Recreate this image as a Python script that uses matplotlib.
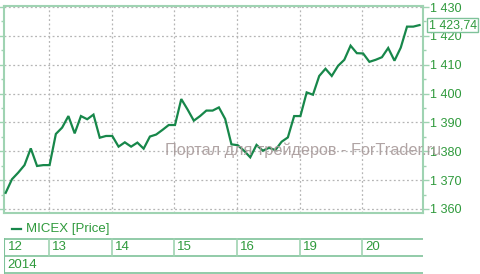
import matplotlib
matplotlib.use("Agg")
import matplotlib.pyplot as plt
from matplotlib.lines import Line2D
from matplotlib.ticker import MultipleLocator, FuncFormatter

plt.rcParams['font.family'] = ['Liberation Sans', 'DejaVu Sans']

# ---- data (hourly MICEX prices) ----
prices = [1365.6, 1370.3, 1372.6, 1375.2, 1381.0, 1374.9, 1375.2,
          1375.2, 1386.0, 1388.2, 1392.2, 1386.2, 1392.2, 1391.1, 1392.7, 1384.7, 1385.3,
          1385.3, 1381.6, 1383.1, 1381.6, 1383.0, 1380.9, 1385.1, 1385.8, 1387.4, 1389.1,
          1389.1, 1398.1, 1394.5, 1390.6, 1392.2, 1394.1, 1394.1, 1395.2, 1391.2, 1382.4,
          1382.1, 1380.2, 1377.9, 1382.2, 1380.2, 1381.2, 1380.4, 1383.3, 1384.8, 1392.2,
          1392.2, 1400.4, 1399.6, 1406.1, 1408.6, 1406.1, 1409.6, 1411.7, 1416.6, 1414.0,
          1413.9, 1411.0, 1411.7, 1412.6, 1415.8, 1411.4, 1415.9, 1423.2, 1423.2, 1423.74]
day_labels = ['12', '13', '14', '15', '16', '19', '20']
day_start_idx = [0, 7, 17, 27, 37, 47, 57]
year_label = '2014'
series_name = 'MICEX [Price]'
last_value_label = '1 423,74'
yticks = [1360, 1370, 1380, 1390, 1400, 1410, 1420, 1430]
watermark = 'Портал для трейдеров - ForTrader.ru'

W, H = 481, 274
fig = plt.figure(figsize=(W / 100, H / 100), dpi=100)

LINE = '#17874a'
TXT = '#2f9a3c'
SPINE = '#9fd3b2'
GRID = '#b5b5b5'

def fx(px):
    return px / W

def fy(py):
    return 1 - py / H

x_left, x_right = 4, 423
y_top, y_bot = 6, 213
ax = fig.add_axes([fx(x_left), fy(y_bot), fx(x_right - x_left), (y_bot - y_top) / H])
xs = list(range(len(prices)))
ax.plot(xs, prices, color=LINE, lw=1.6, solid_joinstyle='miter', zorder=3)
ax.set_xlim(-0.27, 66.55)
ax.set_ylim(1358.6, 1430.35)

ax.set_yticks(yticks)
ax.yaxis.set_minor_locator(MultipleLocator(5))
ax.yaxis.tick_right()
ax.yaxis.set_major_formatter(FuncFormatter(lambda v, p: f"{int(v):,}".replace(',', ' ')))
ax.tick_params(axis='y', which='major', length=4, width=1, color=SPINE,
               labelcolor=TXT, labelsize=9.1, pad=1, right=True, left=True)
ax.tick_params(axis='y', which='minor', length=2.5, width=1, color=SPINE, right=True, left=True)
ax.set_xticks([i - 0.1 for i in day_start_idx[1:]])
ax.tick_params(axis='x', length=0, labelbottom=False)
ax.grid(True, axis='both', which='major', color=GRID, linestyle=(0, (1.5, 2)), lw=0.9)
for s in ax.spines.values():
    s.set_color(SPINE)
    s.set_linewidth(1.5)

# watermark
fig.text(fx(165), fy(150), watermark, color='#a89a9a', alpha=0.9, fontsize=11.7,
         ha='left', va='center', zorder=10)

# last value box
ax.annotate(last_value_label, xy=(1, prices[-1]), xycoords=('axes fraction', 'data'),
            xytext=(4.0, 0), textcoords='offset points', ha='left', va='center',
            fontsize=8.9, color=TXT,
            bbox=dict(boxstyle='square,pad=0.1', fc='white', ec='#7fc29a', lw=1),
            annotation_clip=False, zorder=12)

# legend
fig.add_artist(Line2D([fx(12), fx(21)], [fy(229), fy(229)], color=LINE, lw=1.6))
fig.text(fx(26), fy(229), series_name, color=TXT, fontsize=9.5, ha='left', va='center')

# date band
band = fig.add_axes([fx(x_left), fy(273.5), fx(x_right - x_left), 35.5 / H])
band.set_xlim(ax.get_xlim())
band.set_ylim(273.5, 238)
band.axis('off')
for yy in (238.5, 256, 273):
    band.axhline(yy, color='#7fc29a', lw=1.2)
band.axvline(-0.27, color='#7fc29a', lw=1.5)
for i, (lbl, idx) in enumerate(zip(day_labels, day_start_idx)):
    if i > 0:
        band.plot([idx - 0.1, idx - 0.1], [238.5, 256], color='#9fd3b2', lw=1.2)
    xpos = 0.3 if i == 0 else idx + 0.35
    band.text(xpos, 247.5, lbl, color=TXT, fontsize=9.5, ha='left', va='center')
band.text(0.3, 265, year_label, color=TXT, fontsize=9.5, ha='left', va='center')

fig.savefig('out.png', dpi=100)
